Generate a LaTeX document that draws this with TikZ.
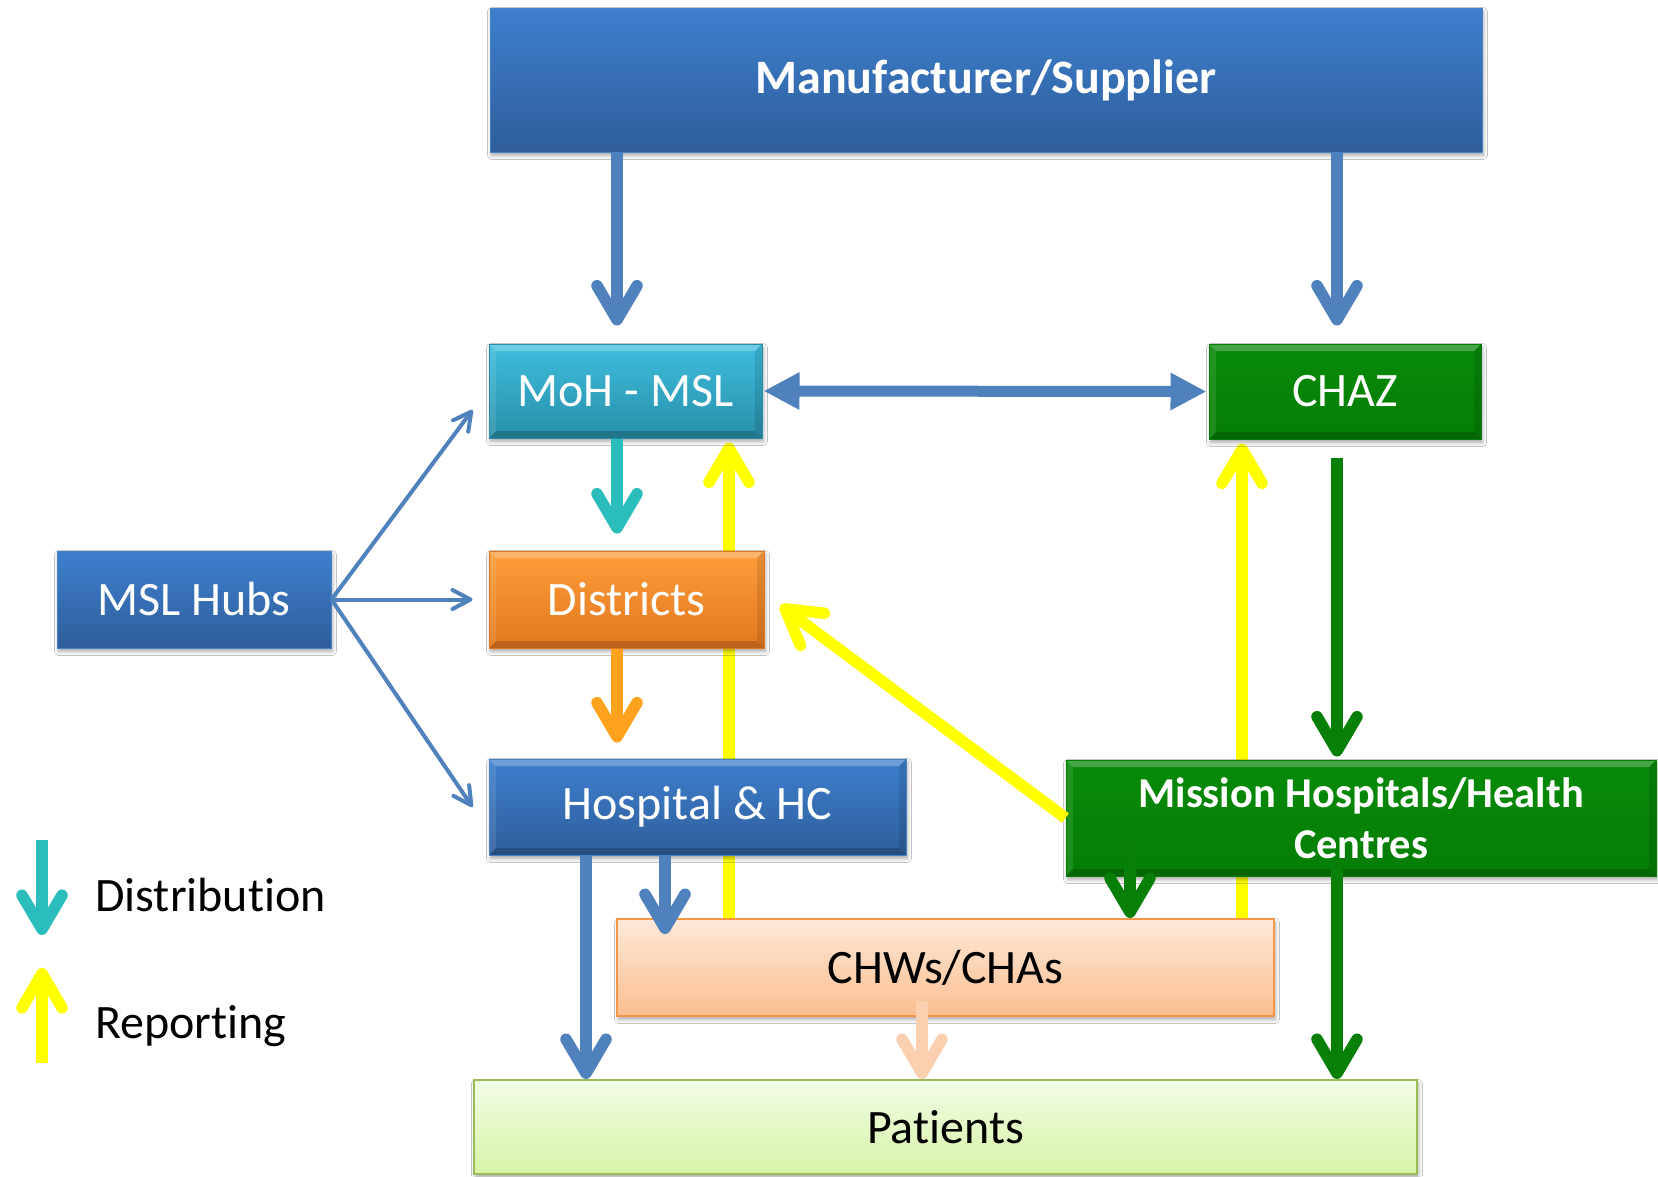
\documentclass[tikz,border=0pt]{standalone}
\usepackage{fontspec}
\setmainfont{Carlito}[Ligatures=CommonOff]
\usepackage{tikz}
\usetikzlibrary{arrows.meta, calc, backgrounds, shadows.blur}
\usepackage{xcolor}

\definecolor{azul}{RGB}{79,129,189}
\definecolor{azulA}{RGB}{62,127,206}
\definecolor{azulB}{RGB}{46,94,155}
\definecolor{azulC}{RGB}{70,130,200}
\definecolor{cianoA}{RGB}{62,190,222}
\definecolor{cianoB}{RGB}{40,142,168}
\definecolor{ciano}{RGB}{43,188,188}
\definecolor{laranjaA}{RGB}{253,157,58}
\definecolor{laranjaB}{RGB}{226,120,30}
\definecolor{laranja}{RGB}{255,162,30}
\definecolor{verdeA}{RGB}{8,138,8}
\definecolor{verdeB}{RGB}{5,125,5}
\definecolor{verde}{RGB}{8,128,8}
\definecolor{amarelo}{RGB}{255,255,0}
\definecolor{pessego}{RGB}{251,208,176}
\definecolor{chwA}{RGB}{253,233,217}
\definecolor{chwB}{RGB}{251,190,142}
\definecolor{chwC}{RGB}{247,150,70}
\definecolor{patA}{RGB}{243,252,230}
\definecolor{patB}{RGB}{214,244,166}
\definecolor{patC}{RGB}{155,187,89}

\begin{document}
\begin{tikzpicture}[x=1pt, y=-1pt,
    texto/.style={font=\fontsize{48}{58}\selectfont},
    caixa/.style={rectangle, inner sep=4pt, align=center, text=white, texto,
      blur shadow={shadow xshift=1.5pt, shadow yshift=-3.5pt, shadow blur radius=4pt, shadow opacity=35}},
    bisel/.style={path picture={
      \fill[white, opacity=0.25] (path picture bounding box.north west) -- (path picture bounding box.north east)
        -- ([xshift=-7pt, yshift=-7pt]path picture bounding box.north east) -- ([xshift=7pt, yshift=-7pt]path picture bounding box.north west) -- cycle;
      \fill[black, opacity=0.18] (path picture bounding box.south west) -- (path picture bounding box.south east)
        -- ([xshift=-7pt, yshift=7pt]path picture bounding box.south east) -- ([xshift=7pt, yshift=7pt]path picture bounding box.south west) -- cycle;
      \fill[white, opacity=0.1] (path picture bounding box.north west) -- ([xshift=7pt, yshift=-7pt]path picture bounding box.north west)
        -- ([xshift=7pt, yshift=7pt]path picture bounding box.south west) -- (path picture bounding box.south west) -- cycle;
      \fill[black, opacity=0.1] (path picture bounding box.north east) -- ([xshift=-7pt, yshift=-7pt]path picture bounding box.north east)
        -- ([xshift=-7pt, yshift=7pt]path picture bounding box.south east) -- (path picture bounding box.south east) -- cycle;
    }},
    azulbox/.style={caixa, top color=azulA, bottom color=azulB, draw=azulC, line width=1pt},
    cianobox/.style={caixa, bisel, top color=cianoA, bottom color=cianoB, draw=cianoB, line width=1pt},
    laranjabox/.style={caixa, bisel, top color=laranjaA, bottom color=laranjaB, draw=laranjaB, line width=1pt},
    verdebox/.style={caixa, bisel, top color=verdeA, bottom color=verdeB, draw=verdeB, line width=1pt},
    chwbox/.style={caixa, text=black, top color=chwA, bottom color=chwB, draw=chwC, line width=2pt},
    patbox/.style={caixa, text=black, top color=patA, bottom color=patB, draw=patC, line width=2pt},
    seta/.style={line width=11.5pt, -{Straight Barb[length=34pt, width=40pt, round]}},
    setafina/.style={line width=4pt, azul, -{Straight Barb[length=18pt, width=19pt, round]}},
    dupla/.style={line width=11pt, azul, {Triangle[length=36pt, width=35pt]}-{Triangle[length=36pt, width=35pt]}},
  ]
    \useasboundingbox (0,0) rectangle (1658,1176);

    % Caixas
    \node[azulbox, minimum width=992pt, minimum height=144pt, font=\bfseries\fontsize{48}{58}\selectfont] (manu) at (986,80) {Manufacturer/Supplier};
    \node[cianobox, minimum width=273pt, minimum height=94pt] (moh) at (625.5,391) {MoH - MSL};
    \node[verdebox, minimum width=272pt, minimum height=95pt] (chaz) at (1345,391.5) {CHAZ};
    \node[azulbox, minimum width=274pt, minimum height=97pt] (hubs) at (194,599.5) {MSL Hubs};
    \node[laranjabox, minimum width=275pt, minimum height=97pt] (dist) at (626.5,599.5) {Districts};
    \node[azulbox, bisel, minimum width=417pt, minimum height=96pt] (hosp) at (697.5,807) {Hospital \& HC};
    \node[verdebox, minimum width=590pt, minimum height=116pt, font=\bfseries\fontsize{42.5}{51}\selectfont] (mission) at (1361,818) {Mission Hospitals/Health\\Centres};
    \node[chwbox, minimum width=657pt, minimum height=97pt] (chws) at (945.5,967.5) {CHWs/CHAs};
    \node[patbox, minimum width=943pt, minimum height=94pt] (pat) at (945.5,1127) {Patients};

    % Legenda
    \node[texto, inner sep=0pt, anchor=base west] (ldist) at (95,911) {Distribution};
    \node[texto, inner sep=0pt, anchor=base west] (lrep) at (95,1038) {Reporting};

    % Colunas das setas
    \coordinate (cA) at (617,0);
    \coordinate (cB) at (1337,0);
    \coordinate (cC) at (729,0);
    \coordinate (cD) at (1242,0);
    \coordinate (cE) at (586,0);
    \coordinate (cF) at (665,0);
    \coordinate (cG) at (922,0);
    \coordinate (cH) at (1130,0);

    % Relatorios (atras das caixas)
    \begin{scope}[on background layer]
        \fill[white] (0,0) rectangle (1658,1176);
        \draw[seta, amarelo, shorten >=4pt] (chws.north -| cC) -- (moh.south -| cC);
        \draw[seta, amarelo, shorten >=4pt] (chws.north -| cD) -- (chaz.south -| cD);
    \end{scope}

    % Setas
    \draw[seta, azul, shorten >=18pt] (manu.south -| cA) -- (moh.north -| cA);
    \draw[seta, azul, shorten >=18pt] (manu.south -| cB) -- (chaz.north -| cB);
    \draw[dupla, shorten <=1pt, shorten >=2pt] (moh.east) -- (chaz.west);
    \draw[seta, ciano, shorten >=17pt] (moh.south -| cA) -- (dist.north -| cA);
    \draw[seta, laranja, shorten >=16pt] (dist.south -| cA) -- (hosp.north -| cA);
    \draw[setafina] (hubs.east) -- ($(moh.west)+(-16,19)$);
    \draw[setafina] (hubs.east) -- ($(dist.west)+(-16,0)$);
    \draw[setafina] (hubs.east) -- ($(hosp.west)+(-16,0)$);
    \draw[seta, amarelo] (mission.west) -- ($(dist.east)+(16,6)$);
    \draw[seta, verde, shorten <=18pt, shorten >=3pt] (chaz.south -| cB) -- (mission.north -| cB);
    \draw[seta, verde, shorten <=-36pt] (mission.south -| cH) -- (chws.north -| cH);
    \draw[seta, verde, shorten <=-19pt] (mission.south -| cB) -- (pat.north -| cB);
    \draw[seta, azul] (hosp.south -| cE) -- (pat.north -| cE);
    \draw[seta, azul, shorten >=-16pt] (hosp.south -| cF) -- (chws.north -| cF);
    \draw[seta, pessego, shorten <=-16pt] (chws.south -| cG) -- (pat.north -| cG);
    \draw[seta, ciano] ($(ldist.base west)+(-53,-71)$) -- ($(ldist.base west)+(-53,24)$);
    \draw[seta, amarelo] ($(lrep.base west)+(-53,25)$) -- ($(lrep.base west)+(-53,-70)$);
\end{tikzpicture}
\end{document}
